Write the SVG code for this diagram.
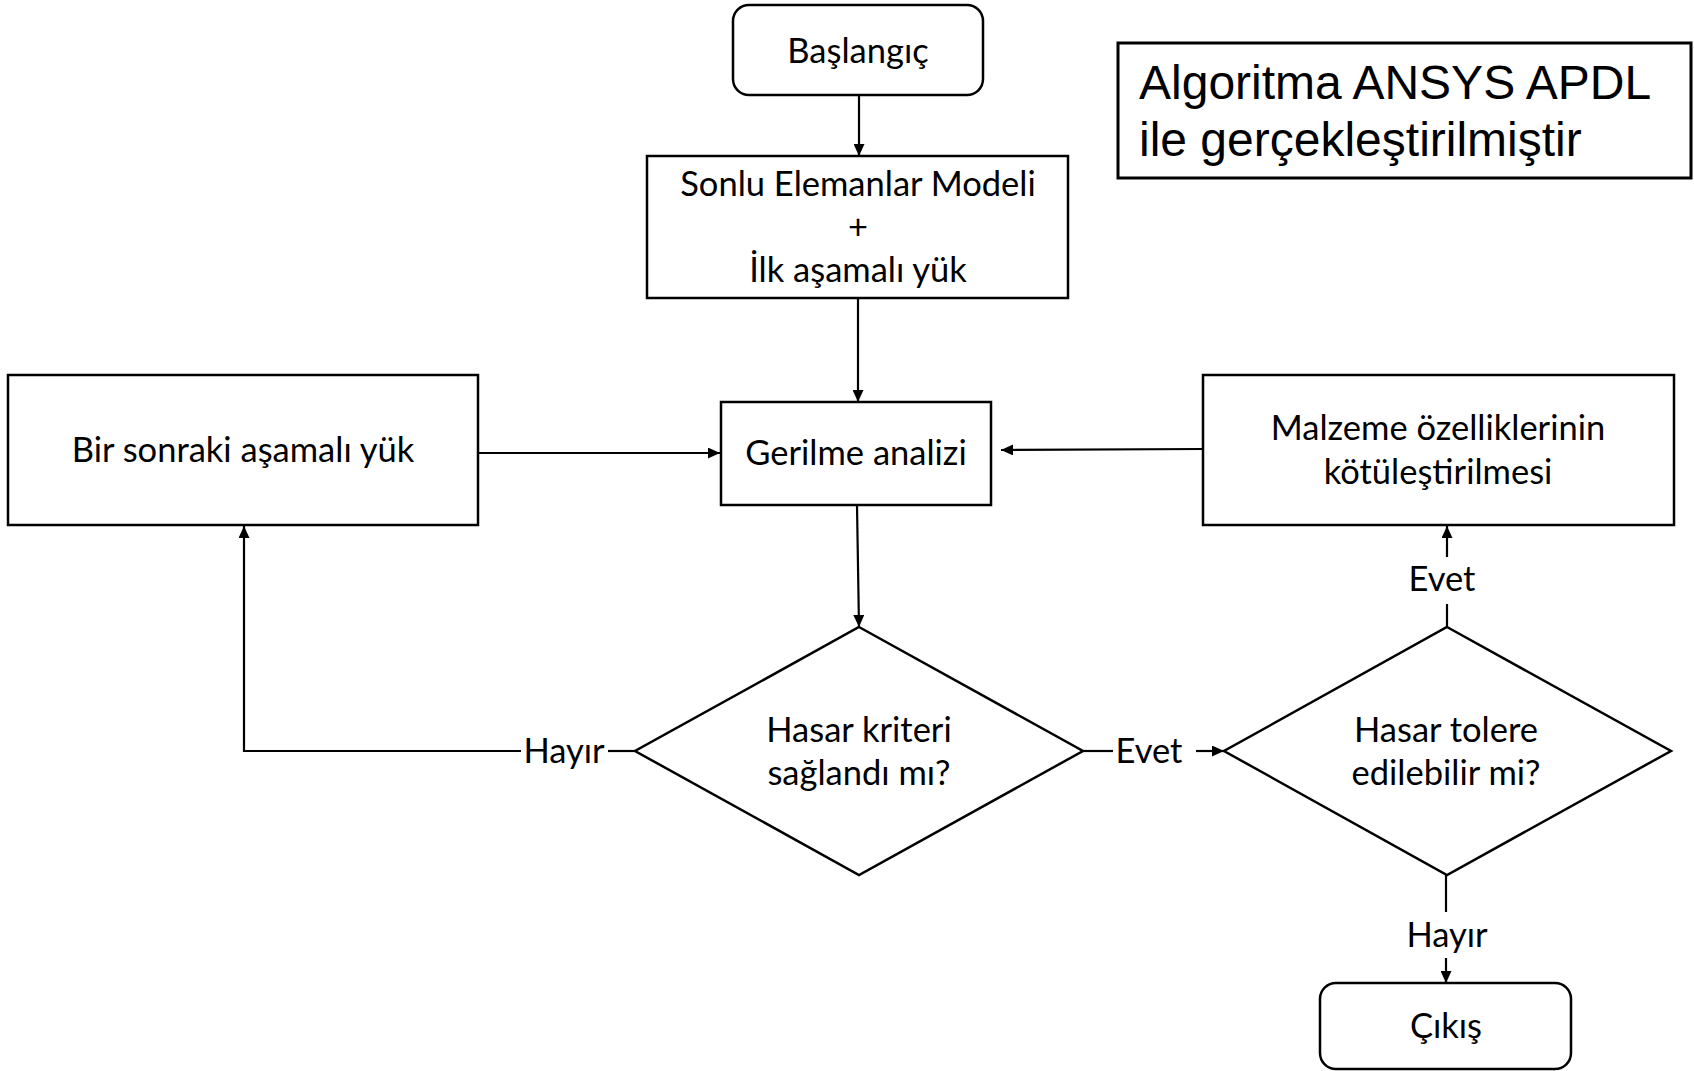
<svg xmlns="http://www.w3.org/2000/svg" width="1694" height="1071" viewBox="0 0 1694 1071">
<defs>
<marker id="ah" markerUnits="userSpaceOnUse" markerWidth="13" markerHeight="11" refX="12" refY="5.5" orient="auto">
<path d="M0,0 L12,5.5 L0,11 z" fill="#000"/>
</marker>
<style>
.box{fill:#fff;stroke:#000;stroke-width:2.5}
.t{font-family:Lato,"Open Sans",sans-serif;font-size:34.5px;fill:#000;text-anchor:middle}
.c{fill:none;stroke:#000;stroke-width:2.2}
.big{font-family:"Liberation Sans",Arial,sans-serif;font-size:48px;fill:#000}
</style>
</defs>
<rect width="1694" height="1071" fill="#fff"/>
<g id="connectors">
<line class="c" x1="859" y1="95" x2="859" y2="156" marker-end="url(#ah)"/>
<line class="c" x1="858" y1="298" x2="858" y2="402" marker-end="url(#ah)"/>
<line class="c" x1="478" y1="453" x2="720" y2="453" marker-end="url(#ah)"/>
<line class="c" x1="1203" y1="449" x2="1001" y2="450" marker-end="url(#ah)"/>
<line class="c" x1="857" y1="505" x2="859" y2="627" marker-end="url(#ah)"/>
<line class="c" x1="635" y1="751" x2="608" y2="751"/>
<polyline class="c" points="521,751 244,751 244,526" marker-end="url(#ah)"/>
<line class="c" x1="1083" y1="751" x2="1113" y2="751"/>
<line class="c" x1="1196" y1="751" x2="1224" y2="751" marker-end="url(#ah)"/>
<line class="c" x1="1447" y1="627" x2="1447" y2="604"/>
<line class="c" x1="1447" y1="557" x2="1447" y2="526" marker-end="url(#ah)"/>
<line class="c" x1="1446" y1="875" x2="1446" y2="912"/>
<line class="c" x1="1446" y1="958" x2="1446" y2="983" marker-end="url(#ah)"/>
<text class="t" x="564" y="763">Hayır</text>
<text class="t" x="1149" y="763">Evet</text>
<text class="t" x="1442" y="591">Evet</text>
<text class="t" x="1447" y="947">Hayır</text>
</g>
<g id="start">
<rect class="box" x="733" y="5" width="250" height="90" rx="16"/>
<text class="t" x="858" y="63">Başlangıç</text>
</g>
<g id="model">
<rect class="box" x="647" y="156" width="421" height="142"/>
<text class="t" x="858" y="196">Sonlu Elemanlar Modeli</text>
<text class="t" x="858" y="239">+</text>
<text class="t" x="858" y="282">İlk aşamalı yük</text>
</g>
<g id="note">
<rect x="1118" y="43" width="573" height="135" fill="#fff" stroke="#000" stroke-width="3"/>
<text class="big" x="1139" y="99">Algoritma ANSYS APDL</text>
<text class="big" x="1139" y="156">ile gerçekleştirilmiştir</text>
</g>
<g id="next">
<rect class="box" x="8" y="375" width="470" height="150"/>
<text class="t" x="243" y="462">Bir sonraki aşamalı yük</text>
</g>
<g id="stress">
<rect class="box" x="721" y="402" width="270" height="103"/>
<text class="t" x="856" y="465">Gerilme analizi</text>
</g>
<g id="material">
<rect class="box" x="1203" y="375" width="471" height="150"/>
<text class="t" x="1438" y="440">Malzeme özelliklerinin</text>
<text class="t" x="1438" y="484">kötüleştirilmesi</text>
</g>
<g id="damage">
<polygon class="box" points="859,627 1083,751 859,875 635,751"/>
<text class="t" x="859" y="742">Hasar kriteri</text>
<text class="t" x="859" y="785">sağlandı mı?</text>
</g>
<g id="tolerable">
<polygon class="box" points="1447,627 1671,751 1447,875 1224,751"/>
<text class="t" x="1446" y="742">Hasar tolere</text>
<text class="t" x="1446" y="785">edilebilir mi?</text>
</g>
<g id="exit">
<rect class="box" x="1320" y="983" width="251" height="86" rx="16"/>
<text class="t" x="1446" y="1038">Çıkış</text>
</g>
</svg>
